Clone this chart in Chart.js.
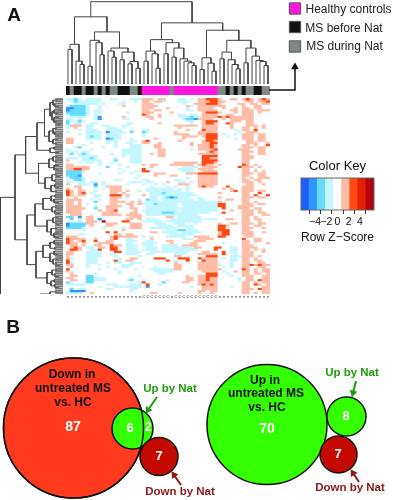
<!DOCTYPE html>
<html>
<head>
<meta charset="utf-8">
<title>Heatmap and Venn</title>
<script src="https://cdn.jsdelivr.net/npm/chart.js@4/dist/chart.umd.min.js"></script>
<style>
  html, body { margin: 0; padding: 0; background: #fff; }
  #wrap { position: relative; width: 393px; height: 500px; overflow: hidden; filter: blur(0.3px); }
  canvas { position: absolute; }
</style>
</head>
<body>
<div id="wrap">
  <canvas id="topDendro" width="204" height="84" style="left:66px;top:0"></canvas>
  <canvas id="colStrip" width="204" height="9" style="left:66px;top:86px"></canvas>
  <canvas id="leftDendro" width="63" height="196" style="left:0;top:98px"></canvas>
  <canvas id="rowStrip" width="8" height="196" style="left:55px;top:98px"></canvas>
  <canvas id="heat" width="204" height="202" style="left:66px;top:98px"></canvas>
  <canvas id="colorKey" width="108" height="90" style="left:285px;top:155px"></canvas>
  <canvas id="page" width="393" height="500" style="left:0;top:0"></canvas>
</div>
<script>
// groups of the 51 samples, left to right: B = MS before Nat, D = MS during Nat, H = healthy
const colGroups = ["B","D","B","B","D","B","B","D","B","D","B","D","D","B","B","B","D","D","B",
  "H","H","H","H","H","H","H","D","H","H","H","H","H","H","H","H","H","H","H",
  "D","D","B","D","B","D","B","D","D","B","B","D","D"];
const groupNames = ["Healthy controls", "MS before Nat", "MS during Nat"];
const groupColors = { H: "#ff14e0", B: "#111111", D: "#7f8787" };

// tiny sample labels under the heatmap
const colLabels = colGroups.map(g => g === "H" ? "C" : "n");

// dendrograms: [height, left, right], 0 = leaf
const colTree = [245,
  [200,
    [118, [103,0,0], [68,0,[58,0,0]]],
    [155,
      [130, [53,0,0], [123,0,[87,0,0]]],
      [107, [98,0,[80,0,0]], [95, [72,0,0], [67,[60,0,0],[47,0,0]]]]]],
  [182,
    [132,
      [98, [68,0,0], [90,0,[47,0,0]]],
      [123, [90,0,0], [107, [80,0,0], [75,0,[68,0,[63,0,[55,0,0]]]]]]],
    [160,
      [78, [43,0,0], [62,0,[38,0,0]]],
      [130,
        [95, [75,0,0], [72,0,[58,0,[45,0,0]]]],
        [107, [63,0,0], [83,0,[70,0,[67,0,[55,0,0]]]]]]]]];

const rowTree = [62.5,
  [48,
    [37.4,
      [26,
        [18.5,
          [13,[10,[6,0,0],[8,0,[5,0,0]]],[11,[9,0,[6,0,0]],[9,[5,0,0],[7,0,[4,0,0]]]]],
          [14,[10,[7,0,0],[8,0,[5,0,0]]],[10,[6,0,0],[7,0,0]]]],
        [13,[9,0,0],[5,0,0]]],
      [24.5,
        [14,[10,[6,0,0],[7,0,0]],[9,[5,0,0],[6,0,0]]],
        [18,[11,[7,0,[4,0,0]],[8,0,0]],[12,[8,0,[5,0,0]],[7,0,0]]]]],
    [36,
      [28,
        [20,[12,[8,0,0],[9,0,[5,0,0]]],[11,[7,0,0],[8,0,[4,0,0]]]],
        [16,[10,[6,0,0],[7,0,[4,0,0]]],[12,[7,0,0],[9,[6,0,0],[5,0,0]]]]],
      [27,
        [20,[13,[9,0,[5,0,0]],[8,0,0]],[13,[9,0,[6,0,0]],[10,[6,0,0],[7,0,[4,0,0]]]]],
        [16,[11,[7,0,0],[8,0,[5,0,0]]],[12,[9,0,0],[8,0,[5,0,0]]]]]]],
  [23,[13,[7,0,0],[8,0,0]],[9,0,0]]];

// heatmap rows, one char per sample (spaces only split the three block of columns)
const zByChar = { ".":0, a:-1.2, A:-2.3, B:-3.5, o:1.2, R:2.4, s:4.5 };
const heatRows = [
  "aaAa.aaaa..aa...aaa ooo.oo...aa.a.ooRRR o..oo.oRo.oRo",
  ".aAaaaaaa.....a..a. oo.ooa...aaa..oooRR oo.....oo.ooR",
  "..aaaaaa.a...aa.... ooo.......a..oooRRR o....oo.oo.oo",
  "aAAAAa..a.....o.... oooo.......oa.ooooo oo....o..oo..",
  "BBAAAa..a.......... ooo...o....a..oooo. .o..o.oo.oo..",
  "BAAAAa.aa.......... oo.oo......aa.ooooo ...oo.ooo.ooo",
  "AAAAAa.aa......a... ooo....o.......oRRR o...o.ooo.o..",
  "aAAAAa.a........... Ro..o....aa.aa.oooo ..oo..ooo....",
  ".aaaa..aB.....o.... .oo.o....aaaAaaoooo RoRoooooo....",
  "aa.a...aB.....aa... ..o.......aAABoooo. .o.oooooo....",
  "Aa.Aa.............. ...........aa..oRRR ...ooo.oo....",
  "A.aa..aa.......aa.. ....o.......a..oRRo ..Ro...oo....",
  "aooo.aa..aa...aa... ........oooooo.oooo ...o...ooo.o.",
  "a.o..aa...aaa.a.... .........o.....oooo ...o..oo.o.o.",
  "...a.aaa..aaaa..a.. aa.........o...Rooo ....a.oo.R...",
  "a....aaaa.Baaaa.A.. Aa......o.....ooooo .....a.ooo...",
  "...a.aaaa.aaaa..... a.......oooo..ooRRR .a..a.ooo.oo.",
  ".....aAaa.aaaa..... a.........oooo.oRRR ..a...ooo.oo.",
  "oo...aaaa.BAaa..a.. ...o......o.....RRR ....a.ooo.oo.",
  "oo........aaa...aa. oR.......o.....oRRo .......oo.oo.",
  "oo....a...a.a..aa.. oo..o.......o..ooRR .......ooo..o",
  "....a.......a...aaa ...oo.......o.oooRo ......oo.o..R",
  "..aA.....a..a...aaa ...oo.........oooRo ......ooo.oo.",
  "a.....a.......aaaaa ....oo......a.ooooR .....ooo..oo.",
  "aaa.aa........aaaaa ....oo..........oRo ......ooo.oo.",
  ".A.aAa.....a..aaaaa ..o.oo........ooooo ......oo..oo.",
  "...aaaaa......a.aaa ....oo.........RRRR ......ooo....",
  "aaa.aaAa....a...aaa ...............RRoo ......ooo....",
  "o...aaaaa...A...aaa ...............RRRR ......oo.....",
  "...a.aa.a..a....aaa ........oooooo.RRRo ......oo.....",
  "oo......a....a..... o.oo...oooooo.oRoo. o.....Ro.o...",
  "oooooo....A....a... ..o.......aaaa.oooo .....Rooo.o..",
  "ooRRoo.......a..... R........aaaa.oooo. ......oo.a...",
  "AAAAa.........a..aa RR........aaa..oooo ......oo.o.o.",
  "AAAA....a....a..a.. ...ooo.....oooRRRRR ......ooo.oo.",
  "AAAB..............a ...o...oo.....ooooo ......oo..oo.",
  ".AAAa............a. ...........a..ooooo ......o.o.ooo",
  "a.AAa.......aa..... aa......aa....ooooo ......oo.oo..",
  "aa.aa.aa.a......aaa .aa...o..aa.a.ooooo ......ooo.o..",
  "o..aaa.B.a.....a... a..a.a...ooo..ooooo .......oo..o.",
  "..oo...A..oooo..... ..a...a.a..a..oRoo. ..R...ooo....",
  "o..o.....a.ooo..... .aaaaaaa.a.a....... .o.o..ooo....",
  "Ro.oo..a...ooo.o..a .aaaaaaaaa.a....... ...oR.ooo.oo.",
  "Ro.oR.a....oo.o.... ..aaaAaaaaaaa...... o.....oo..R..",
  "Ro.oo..aa..RRR.o... o.aaaaaaaaaaaa..... ......oo.R..R",
  "..o....a...ooo.a... ..aa.aABAaaa..a.... o.....ooo.oo.",
  "oooo..a.a..oo.....a .Aaa.aaaaaaaa.aa... ..oo..oo.....",
  "oo.o...A...oooo.o.o .aaaaaaaaaaaaaaaaaa o.....oo.o...",
  "oo.o.a.....oo..oo.o aaaAaaaaa.aaaaaaaaa RR....ooo.oo.",
  "oooo...a..oooo..o.. .aaaaaaaa.aaaaaaaaa RR...oooo....",
  "ooooo..A..ooo...oo. .aaaaaaaaaaaaaaaaaa .R...ooo.oo..",
  "oooo....o.ooR....o. aaaaaaaaa.aaaaaaaaa ...o..ooo.o..",
  "oooo.....oooo...oo. .aaaaAAAaaaaaaaaa.. .R....ooo.oo.",
  ".ooo..a..ooooo.oooo .aaaaaaaaaaaaa..... ......ooo..oo",
  "AA.B.oo.........ooo ......oo.aaaaaa.... ......oo.o...",
  ".A.a.oo.B......oo.o .aaa...aaaaaaaaaaaa ..oo..oo.oo..",
  "...a.ooo.s....RR... aaaaa.aaaaaaaaa.... ......oo..o..",
  "BAAAAoo...ooo...ooo ...aaa..aaa..a..... o..oo.ooo.oo.",
  "BAAAA.o...oo....ooo ....aaaa.aaaa...... RRo...oo.oo..",
  "AAAAa....a....a.ooo ..aaaaaaa..aa...... RR....ooo..o.",
  "....a.........o.... ......aaaAAaaa..... RRR...oo.....",
  "..........R.R...... ..oo.aaaa.aaaaa.... oRR...ooo..o.",
  "...aa.......oo.oo.. .......aaaaaa...... oRR...ooo....",
  "ooo........oRooooo. a.a...aaaaa..oooo.. RR.....oo....",
  "Roooo..o...oR..aa.. ..o.......aaa.oooo. ......R..oo..",
  "Ro.oR..R..oo...aaa. .aa...oo.....ooo... ......oo.oo..",
  "Roo.o...oooo...aa.. aaaa...o....oo..... .a....oo.a..o",
  ".oo.o..oo..Roo.aaa. aaa..aaaa.oooo..... ......ooo....",
  ".oRo.aa.oo.RR..aaa. .aaa.aaaaaaaaoo...R R..aa.oooo...",
  ".RRo..aaR..RRa.aaa. aaaa.aaaaaaaaa....R ...aa.oo.o.o.",
  "oo...aaaa...RR.aaaa ..aaaaaaaaaa...oo.. .R.aa.ooo..o.",
  "oo...aaaa..aa..aaa. .aa.....aaa...ooooo .R..a.ooo....",
  "o....aaaa...a.....a ........oo......RRR ...aaaooo.o..",
  "oa...aaa.....a..oo. ...RRR...RRR..Roooo .a.aa.oo.o...",
  "R....aaa....Ra.oo.. ......R.a..R...Rooo ...aa.oo.oo..",
  "Ra...aaa..a.aa..aaa ........o.....ooooo ...a..oo..oo.",
  "oo...a..a.....aaa.. ........oo....ooooo a..a..ooRoRoo",
  ".o...a....a...aa... ...a....oo....ooooo .a.a..oo..oo.",
  "R.......a...a....a. ..aaaaaaoo....ooooo o.....Ro.o.oo",
  "oa...........a..... ...aaaaa.......oooo .a..o.oo.o.oo",
  ".o.....a.....a..... ....aa..........RRR ..a...oo.oo.o",
  ".oo..AA...........a ...........o..ooRRR ...a..ooo..oo",
  "oo...AAaaa......a.. ...........oo.ooRoo .....a.oo..oo",
  ".oo..AAaaa.....aA.. a.....a....oo.ooRoo .....a.oo.Roo",
  "Aa...AA...........a R....A....oo..ooooo ......oo.o.oo",
  "aaaaa.....aaa...aaa .R..a.........oRoRo ......oo.Ro.o",
  "........a...aaaaaaa .B..........a..oooo ...a..oo...oo",
  ".A.aa.....aa....aa. ...............oooo ......ooo.Roo",
  ".BBBB...........a.. ..............oo.oo ......oo...oo",
  "aaaa..o............ ..oo.....o....o..o. ......oo.o.oo"
];

// color key: upper edge of each bin and its color
const keyBreaks = [-4.05, -2.9, -1.75, -0.6, 0.6, 1.75, 2.9, 4.05, 5.2];
const keyColors = ["#1f5cff", "#2f96ff", "#66dbff", "#c4f6ff", "#ffffff", "#ffbda8", "#ff4a14", "#e81e00", "#b20010"];

// venn circles
const vennX = [73.5, 132.5, 159, 267, 346.5, 338.5];
const vennY = [428, 428.5, 456.5, 424.5, 416.5, 454.5];
const vennR = [70, 20.5, 19, 60, 19.5, 18.5];
const vennColors = ["#ff3a1e", "#33ff00", "#c40a00", "#33ff00", "#33ff00", "#c40a00"];

const FONT = '"Liberation Sans", Arial, sans-serif';
const GREEN = "#1c9e0a", DARKRED = "#8f1616";

// text on the page: text, x, y, size, bold, color
const pageLabels = [
  ["A", 14, 16, 19, true, "#111"], ["B", 13, 328, 19, true, "#111"],
  [groupNames[0], 348.5, 10, 12, false, "#222"], [groupNames[1], 344, 29, 12, false, "#222"], [groupNames[2], 344.5, 47, 12, false, "#222"],
  ["Down in", 72, 375, 12, true, "#111"], ["untreated MS", 73, 389, 12, true, "#111"], ["vs. HC", 73, 403, 12, true, "#111"],
  ["87", 73, 427, 14, true, "#fff"], ["6", 130, 428, 13, true, "#fff"], ["2", 148, 428, 12, true, "#fff"], ["7", 159, 456, 13, true, "#fff"],
  ["Up in", 265, 381, 12, true, "#111"], ["untreated MS", 266, 394, 12, true, "#111"], ["vs. HC", 267, 408, 12, true, "#111"],
  ["70", 267, 429, 14, true, "#fff"], ["8", 346, 416, 13, true, "#fff"], ["7", 338, 454, 13, true, "#fff"],
  ["Up by Nat", 170, 389, 11.5, true, GREEN], ["Down by Nat", 180, 492, 11.5, true, DARKRED],
  ["Up by Nat", 352, 373, 11.5, true, GREEN], ["Down by Nat", 350, 488, 11.5, true, DARKRED]
];

// arrows: list of points, the last one gets the head
const arrows = [
  { color: "#111", width: 1.5, head: 4.5, pts: [[269,90],[295,90],[295,67]] },
  { color: GREEN, width: 2, head: 4.5, pts: [[157,397],[148,410]] },
  { color: DARKRED, width: 2, head: 4.5, pts: [[181,485],[174,475]] },
  { color: GREEN, width: 2, head: 4.5, pts: [[356,381],[353,393]] },
  { color: DARKRED, width: 2, head: 4.5, pts: [[359,482],[353,473]] }
];

Chart.defaults.animation = false;
Chart.defaults.responsive = false;
Chart.defaults.font.family = FONT;
Chart.defaults.plugins.legend.display = false;
Chart.defaults.plugins.tooltip.enabled = false;
Chart.defaults.events = [];

function noAxis(extra) { return Object.assign({ display: false }, extra); }

// walks a [height,left,right] tree, leaves numbered in order, returns line points
function treeLines(tree, flip) {
  const out = [];
  let leaf = 0;
  const add = (p, h) => out.push(flip ? { x: h, y: p } : { x: p, y: h });
  function walk(n) {
    if (n === 0) return { p: leaf++ + 0.5, h: 0 };
    const a = walk(n[1]), b = walk(n[2]);
    add(a.p, a.h); add(a.p, n[0]); add(b.p, n[0]); add(b.p, b.h);
    add(NaN, NaN);
    return { p: (a.p + b.p) / 2, h: n[0] };
  }
  walk(tree);
  return out;
}

function colorForZ(z) {
  const i = keyBreaks.findIndex(b => z < b);
  return keyColors[i < 0 ? keyColors.length - 1 : i];
}

// column dendrogram
new Chart(document.getElementById("topDendro"), {
  type: "scatter",
  data: { datasets: [{ data: treeLines(colTree, false), showLine: true, pointRadius: 0, borderColor: "#444", borderWidth: 1, clip: false }] },
  options: { layout: { autoPadding: false }, scales: { x: noAxis({ min: 0, max: colGroups.length }), y: noAxis({ min: 0, max: 250 }) } }
});

// sample color strip
new Chart(document.getElementById("colStrip"), {
  type: "bar",
  data: { labels: colLabels, datasets: [{
    data: colGroups.map(() => 1),
    backgroundColor: colGroups.map(g => groupColors[g]),
    barPercentage: 1, categoryPercentage: 1
  }] },
  options: { scales: { x: noAxis(), y: noAxis({ min: 0, max: 1 }) } }
});

// row dendrogram + strip
new Chart(document.getElementById("leftDendro"), {
  type: "scatter",
  data: { datasets: [{ data: treeLines(rowTree, true), showLine: true, pointRadius: 0, borderColor: "#444", borderWidth: 1, clip: false }] },
  options: { layout: { autoPadding: false }, scales: {
    x: noAxis({ min: 0, max: 63, reverse: true }),
    y: noAxis({ min: 0, max: heatRows.length, reverse: true })
  } }
});

new Chart(document.getElementById("rowStrip"), {
  type: "bar",
  data: { labels: heatRows.map((r, i) => i), datasets: [{
    data: heatRows.map(() => 1), backgroundColor: "#777", barPercentage: 0.8, categoryPercentage: 1
  }] },
  options: { indexAxis: "y", scales: { x: noAxis({ min: 0, max: 1 }), y: noAxis() } }
});

// heatmap: one floating-bar dataset per row
const heatData = heatRows.map(r => r.replace(/ /g, "").split("").map(c => zByChar[c]));
const sampleTicks = {
  id: "sampleTicks",
  afterDraw(c) {
    const ctx = c.ctx, xs = c.scales.x;
    ctx.save();
    ctx.font = "4px " + FONT;
    ctx.fillStyle = "#222";
    ctx.textAlign = "center";
    ctx.textBaseline = "middle";
    colLabels.forEach((t, i) => ctx.fillText(t, xs.getPixelForValue(i), c.chartArea.bottom + 3));
    ctx.restore();
  }
};
new Chart(document.getElementById("heat"), {
  type: "bar",
  data: {
    labels: colLabels,
    datasets: heatData.map((row, r) => ({
      data: row.map(() => [r, r + 1]),
      backgroundColor: row.map(colorForZ),
      grouped: false, barPercentage: 1, categoryPercentage: 1, borderWidth: 0
    }))
  },
  options: {
    layout: { padding: { bottom: 6 } },
    scales: {
      x: noAxis(),
      y: noAxis({ min: 0, max: heatRows.length, reverse: true })
    }
  },
  plugins: [sampleTicks]
});

// color key
const keyFrame = {
  id: "keyFrame",
  afterDatasetsDraw(c) {
    const a = c.chartArea;
    c.ctx.strokeStyle = "#666";
    c.ctx.lineWidth = 1;
    c.ctx.strokeRect(a.left, a.top, a.width, a.height);
  }
};
new Chart(document.getElementById("colorKey"), {
  type: "bar",
  data: { labels: keyBreaks, datasets: [{
    data: keyBreaks.map(() => 1), backgroundColor: keyColors,
    barPercentage: 1, categoryPercentage: 1, xAxisID: "x", borderWidth: 0
  }] },
  options: {
    layout: { padding: { left: 16, right: 19 } },
    plugins: { title: { display: true, text: "Color Key", color: "#111", font: { size: 13, weight: "normal" }, padding: { top: 4, bottom: 3.4 } } },
    scales: {
      x: noAxis(),
      y: noAxis({ min: 0, max: 1 }),
      z: {
        type: "linear", position: "bottom", axis: "x", min: -5.2, max: 5.2,
        afterFit: s => { s.height = 35; },
        grid: { drawOnChartArea: false, tickLength: 4, color: "#333" },
        border: { display: false },
        ticks: {
          stepSize: 2, includeBounds: false, autoSkip: false, color: "#111", font: { size: 10.5 }, padding: 2, maxRotation: 0,
          callback: v => String(v).replace("-", "\u2212")
        },
        title: { display: true, text: "Row Z\u2212Score", color: "#111", font: { size: 12.5 }, padding: { top: 5, bottom: 0 } }
      }
    }
  },
  plugins: [keyFrame]
});

// page overlay: venn bubbles, arrows, legend swatches and text
const pageText = {
  id: "pageText",
  afterDatasetsDraw(c) {
    const ctx = c.ctx, xs = c.scales.x, ys = c.scales.y;
    ctx.save();
    ctx.textAlign = "center";
    ctx.textBaseline = "middle";
    pageLabels.forEach(([t, x, y, size, bold, color]) => {
      ctx.font = (bold ? "bold " : "") + size + "px " + FONT;
      ctx.fillStyle = color;
      ctx.fillText(t, xs.getPixelForValue(x), ys.getPixelForValue(y));
    });
    ctx.restore();
  }
};
const bubbleData = vennX.map((x, i) => ({ x, y: vennY[i], r: vennR[i] }));
new Chart(document.getElementById("page"), {
  type: "scatter",
  data: { datasets: [
    // edge of the big circle goes back over the small green one
    { type: "bubble", data: bubbleData.slice(0, 1), backgroundColor: "transparent", borderColor: "#111", borderWidth: 1.5, clip: false },
    ...arrows.map(a => {
      const n = a.pts.length, p = a.pts[n - 1], q = a.pts[n - 2];
      return {
        data: a.pts.map(([x, y]) => ({ x, y })),
        showLine: true, borderColor: a.color, borderWidth: a.width, backgroundColor: a.color,
        pointStyle: "triangle", pointBorderWidth: 0,
        pointRadius: a.pts.map((_, i) => i === n - 1 ? a.head : 0),
        pointRotation: Math.atan2(p[0] - q[0], q[1] - p[1]) * 180 / Math.PI
      };
    }),
    {
      data: [{ x: 295, y: 8.5 }, { x: 295, y: 27 }, { x: 295, y: 46.5 }],
      pointStyle: "rect", pointRadius: 8, pointBorderWidth: 1, pointBorderColor: "#555",
      pointBackgroundColor: [groupColors.H, groupColors.B, groupColors.D]
    },
    { type: "bubble", data: bubbleData, backgroundColor: vennColors, borderColor: "#111", borderWidth: 1.5, clip: false }
  ] },
  options: { layout: { autoPadding: false }, scales: { x: noAxis({ min: 0, max: 393 }), y: noAxis({ min: 0, max: 500, reverse: true }) } },
  plugins: [pageText]
});
</script>
</body>
</html>
